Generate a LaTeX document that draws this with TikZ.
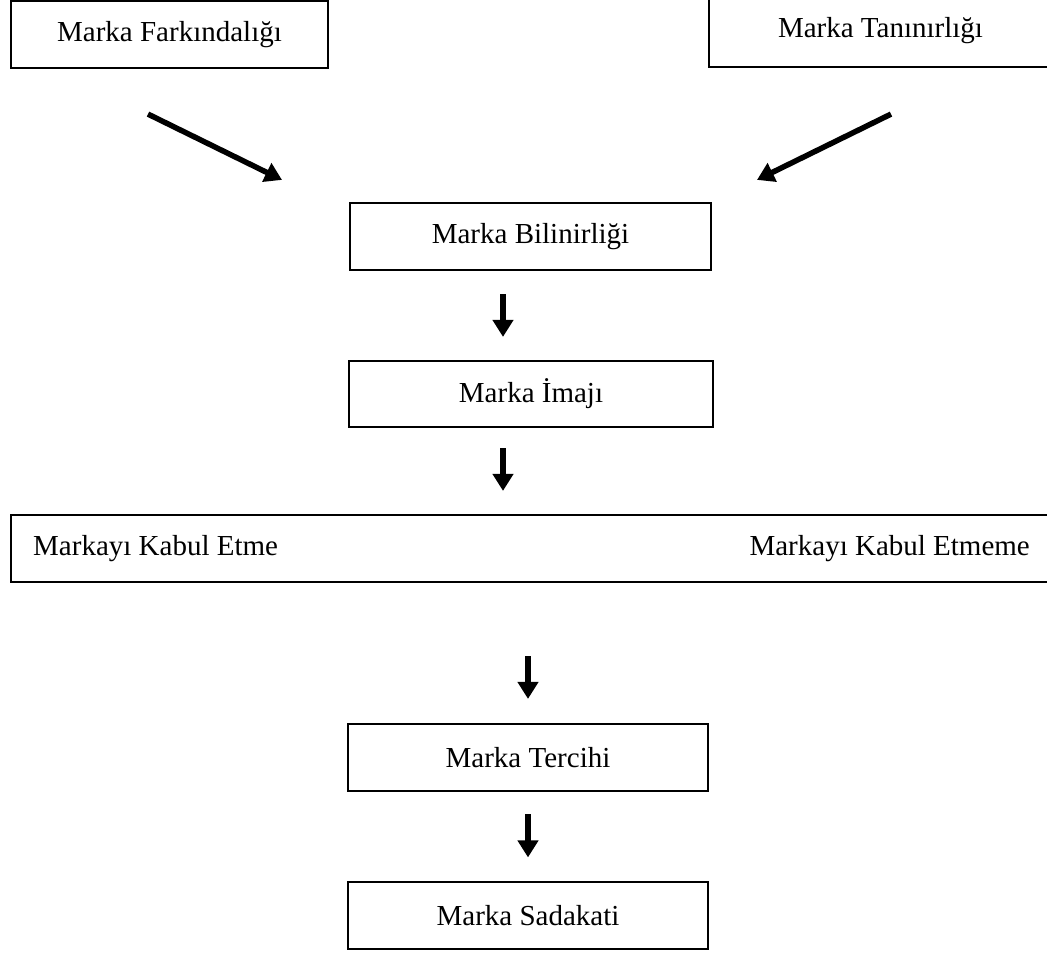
\documentclass[tikz,border=0pt]{standalone}
\usepackage{fontspec}
\setmainfont{Liberation Serif}
\usetikzlibrary{arrows.meta}
\tikzset{
  box/.style={draw, line width=2.2pt, inner sep=0pt, font=\fontsize{29}{35}\selectfont},
  lbl/.style={inner sep=0pt, font=\fontsize{29}{35}\selectfont},
  arr/.style={line width=5.5pt, -{Triangle[length=17pt,width=20pt]}}
}
\begin{document}
\begin{tikzpicture}[x=1pt,y=-1pt]
\useasboundingbox (0,0) rectangle (1047,953);
\node[box, minimum width=317pt, minimum height=67pt] (B1) at (169.5,34.5) {Marka Farkındalığı};
\node[box, minimum width=343pt, minimum height=72pt] (B2) at (880.5,31) {Marka Tanınırlığı};
\node[box, minimum width=361pt, minimum height=67pt] (B3) at (530.5,236.5) {Marka Bilinirliği};
\node[box, minimum width=364pt, minimum height=66pt] (B4) at (531,394) {Marka İmajı};
\node[box, minimum width=1041pt, minimum height=67pt] (B5) at (531.5,548.5) {};
\node[lbl, anchor=west] (T5a) at (33,548.5) {Markayı Kabul Etme};
\node[lbl, anchor=east] (T5b) at (1030,548.5) {Markayı Kabul Etmeme};
\node[box, minimum width=360pt, minimum height=67pt] (B6) at (528,757.5) {Marka Tercihi};
\node[box, minimum width=360pt, minimum height=67pt] (B7) at (528,915.5) {Marka Sadakati};

\draw[arr] ([shift={(-21.5,45)}]B1.south) -- ([shift={(-248.5,-22)}]B3.north);
\draw[arr] ([shift={(10.5,46)}]B2.south) -- ([shift={(226.5,-22)}]B3.north);
\draw[arr] ([shift={(-27.5,23)}]B3.south) -- ([shift={(-28,-23)}]B4.north);
\draw[arr] ([shift={(-28,20)}]B4.south) -- ([shift={(-28.5,-23)}]B5.north);
\draw[arr] ([shift={(-3.5,73)}]B5.south) -- ([shift={(0,-24)}]B6.north);
\draw[arr] ([shift={(0,22)}]B6.south) -- ([shift={(0,-23.5)}]B7.north);
\end{tikzpicture}
\end{document}
